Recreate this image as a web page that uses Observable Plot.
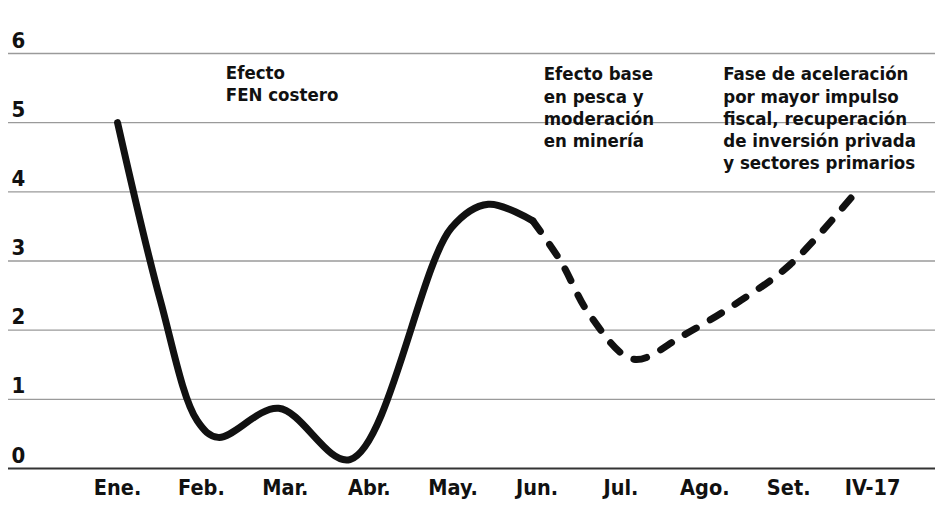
<!DOCTYPE html>
<html>
<head>
<meta charset="utf-8">
<script src="https://cdn.jsdelivr.net/npm/d3@7"></script>
<script src="https://cdn.jsdelivr.net/npm/@observablehq/plot@0.6"></script>
<style>
  html, body { margin: 0; padding: 0; background: #fff; }
  #chart svg { display: block; }
</style>
</head>
<body>
<div id="chart"></div>
<script>
// Month tick labels (x positions are month indices 0..9)
const months = ["Ene.", "Feb.", "Mar.", "Abr.", "May.", "Jun.", "Jul.", "Ago.", "Set.", "IV-17"];
const yTicks = [0, 1, 2, 3, 4, 5, 6];

const solidX = [0, 0.51, 0.95, 1.2, 1.92, 2.77, 3.98, 4.42, 4.95];
const solidY = [5.0, 2.43, 0.69, 0.45, 0.87, 0.13, 3.48, 3.82, 3.58];

// Dashed (projected) segment
const dashX = [4.95, 5.28, 5.64, 6.15, 6.75, 7.43, 8.02, 8.86];
const dashY = [3.58, 3.0, 2.2, 1.58, 1.93, 2.43, 2.95, 4.08];

// Annotations (anchored at month index / value of their top-left corner)
const noteText = [
  "Efecto\nFEN costero",
  "Efecto base\nen pesca y\nmoderación\nen minería",
  "Fase de aceleración\npor mayor impulso\nfiscal, recuperación\nde inversión privada\ny sectores primarios"
];
const noteX = [1.29, 5.08, 7.22];
const noteY = [5.86, 5.84, 5.84];

const solid = solidX.map((x, i) => ({x, y: solidY[i]}));
const dashed = dashX.map((x, i) => ({x, y: dashY[i]}));
const notes = noteText.map((t, i) => ({t, x: noteX[i], y: noteY[i]}));

const chart = Plot.plot({
  width: 935,
  height: 505,
  marginLeft: 8,
  marginRight: 0,
  marginTop: 53,
  marginBottom: 37,
  style: {fontFamily: "'DejaVu Sans Condensed', 'DejaVu Sans', sans-serif", fontWeight: 700, color: "#111", background: "#fff"},
  x: {domain: [-1.3, 9.75], label: null},
  y: {domain: [0, 6], label: null},
  marks: [
    Plot.ruleY(yTicks.filter(d => d > 0), {stroke: "#9a9a9a", strokeWidth: 1.3}),
    Plot.ruleY([0], {stroke: "#333", strokeWidth: 2.2}),
    Plot.axisY({anchor: "left", ticks: yTicks, tickFormat: d => String(d), label: null, tickSize: 0, textAnchor: "start", dx: 12, dy: -13, fontSize: 22, fill: "#111"}),
    Plot.axisX({ticks: d3.range(months.length), tickFormat: i => months[i], label: null, tickSize: 0, tickPadding: 11, fontSize: 21.5, letterSpacing: -0.5, fill: "#111"}),
    Plot.line(solid, {x: "x", y: "y", curve: "catmull-rom", stroke: "#111", strokeWidth: 7, strokeLinecap: "round", strokeLinejoin: "round"}),
    Plot.line(dashed, {x: "x", y: "y", curve: "catmull-rom", stroke: "#111", strokeWidth: 7, strokeLinecap: "round", strokeDasharray: "13,16"}),
    Plot.text(notes, {x: "x", y: "y", text: "t", textAnchor: "start", lineAnchor: "top", fontSize: 18.5, lineHeight: 1.2, fill: "#111", letterSpacing: -0.1})
  ]
});
document.getElementById("chart").append(chart);
</script>
</body>
</html>
